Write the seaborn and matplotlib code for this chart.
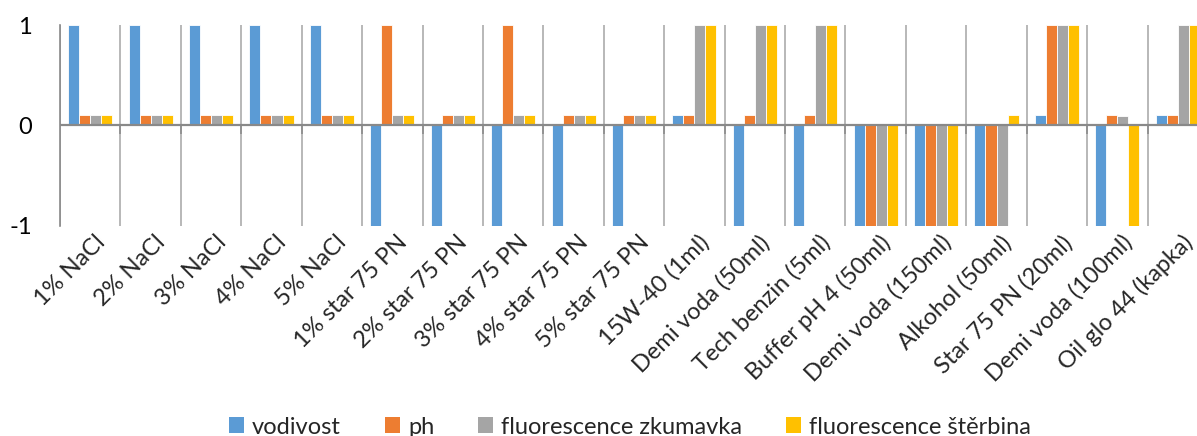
import numpy as np
import pandas as pd
import matplotlib
matplotlib.use("Agg")
import matplotlib.pyplot as plt
import matplotlib.transforms as mtransforms
from matplotlib.patches import Patch
import seaborn as sns

categories = [
    "1% NaCl", "2% NaCl", "3% NaCl", "4% NaCl", "5% NaCl",
    "1% star 75 PN", "2% star 75 PN", "3% star 75 PN", "4% star 75 PN", "5% star 75 PN",
    "15W-40 (1ml)", "Demi voda (50ml)", "Tech benzin (5ml)", "Buffer pH 4 (50ml)",
    "Demi voda (150ml)", "Alkohol (50ml)", "Star 75 PN (20ml)", "Demi voda (100ml)",
    "Oil glo 44 (kapka)",
]
vodivost = [1, 1, 1, 1, 1, -1, -1, -1, -1, -1, 0.1, -1, -1, -1, -1, -1, 0.1, -1, 0.1]
ph = [0.1, 0.1, 0.1, 0.1, 0.1, 1, 0.1, 1, 0.1, 0.1, 0.1, 0.1, 0.1, -1, -1, -1, 1, 0.1, 0.1]
fluor_zkumavka = [0.1, 0.1, 0.1, 0.1, 0.1, 0.1, 0.1, 0.1, 0.1, 0.1, 1, 1, 1, -1, -1, -1, 1, 0.09, 1]
fluor_sterbina = [0.1, 0.1, 0.1, 0.1, 0.1, 0.1, 0.1, 0.1, 0.1, 0.1, 1, 1, 1, -1, -1, 0.1, 1, -1, 1]
series_names = ["vodivost", "ph", "fluorescence zkumavka", "fluorescence \u0161t\u011brbina"]
colors = ["#5B9BD5", "#ED7D31", "#A5A5A5", "#FFC000"]

series_values = [vodivost, ph, fluor_zkumavka, fluor_sterbina]
df = pd.DataFrame({
    "kategorie": categories * len(series_names),
    "hodnota": np.concatenate(series_values),
    "serie": np.repeat(series_names, len(categories)),
})

sns.set_style("white")
plt.rcParams["font.family"] = ["Lato", "DejaVu Sans"]

W, H = 1197, 436
fig = plt.figure(figsize=(W / 100, H / 100), dpi=100)
left, right, top, bottom = 60, 1208, 25, 226
ax = fig.add_axes([left / W, (H - bottom) / H, (right - left) / W, (bottom - top) / H])

sns.barplot(data=df, x="kategorie", y="hodnota", hue="serie", order=categories,
            hue_order=series_names, palette=colors, saturation=1, width=0.73, gap=0,
            edgecolor="#ffffff", linewidth=0.6, legend=False, ax=ax, zorder=3)

n = len(categories)
ax.set_xlim(-0.5, n - 0.5)
ax.set_ylim(-1, 1)
ax.set_yticks([-1, 0, 1])
ax.set_yticklabels(["-1", "0", "1"])
ax.set_xlabel("")
ax.set_ylabel("")

# category separators
bounds = np.arange(-0.5, n, 1.0)
ax.set_xticks(bounds, minor=True)
ax.grid(which="minor", axis="x", color="#ababab", linewidth=1.2, zorder=1)
ax.grid(which="major", axis="y", visible=False)
ax.vlines(bounds[1:], 0, -0.08, color="#8c8c8c", linewidth=1.2, zorder=2)
ax.axhline(0, color="#898989", linewidth=1.6, zorder=4)

for s in ["top", "right", "bottom"]:
    ax.spines[s].set_visible(False)
ax.spines["left"].set_color("#898989")
ax.spines["left"].set_linewidth(1.2)

ax.tick_params(axis="y", which="major", length=6, width=1.2, color="#898989",
               labelsize=17, pad=14, labelcolor="black")
ax.tick_params(axis="x", which="both", length=0, labelsize=17, pad=4)
ax.set_xticks(range(n))
ax.set_xticklabels(categories, rotation=45, ha="right", va="top", rotation_mode="anchor")
shift = mtransforms.ScaledTranslation(4 / 100, 0, fig.dpi_scale_trans)
for lbl in ax.get_xticklabels():
    lbl.set_transform(lbl.get_transform() + shift)

handles = [Patch(facecolor=c, edgecolor="none") for c in colors]
ax.legend(handles, series_names, ncol=4, loc="center", frameon=False,
          bbox_to_anchor=(630 / W, 9 / H), bbox_transform=fig.transFigure,
          fontsize=17, handlelength=0.64, handleheight=0.64, handletextpad=0.35,
          columnspacing=1.85, borderpad=0, borderaxespad=0)

fig.savefig("out.png", dpi=100)
